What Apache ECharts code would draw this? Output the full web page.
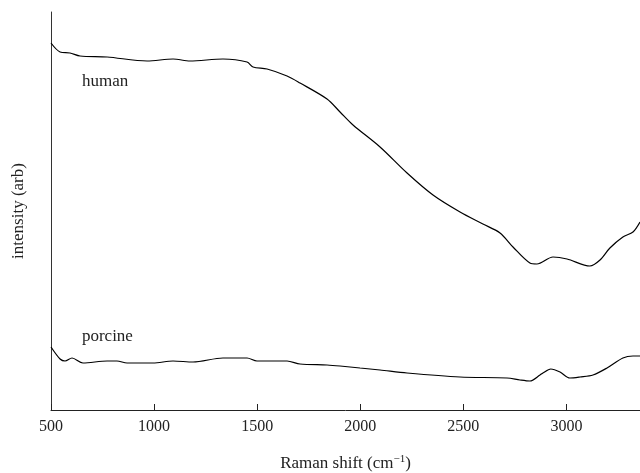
<!DOCTYPE html>
<html>
<head>
<meta charset="utf-8">
<script src="https://cdn.jsdelivr.net/npm/echarts@6/dist/echarts.min.js"></script>
<style>
  html, body { margin: 0; padding: 0; background: #fff; }
  #chart { width: 640px; height: 473px; }
</style>
</head>
<body>
<div id="chart"></div>
<script>
// Raman spectra, values (arbitrary intensity units)
const humanShift = [500, 544, 592, 641, 772, 966, 1092, 1174, 1334, 1451, 1480, 1548, 1645, 1708, 1839, 1902, 1965, 2096, 2227, 2353, 2484, 2595, 2678, 2741, 2823, 2857, 2935, 3003, 3114, 3163, 3211, 3274, 3323, 3357];
const humanIntensity = [367, 358, 357, 354, 353, 349, 351, 349, 351, 348, 343, 341, 334, 327, 311, 298, 285, 263, 237, 215, 198, 186, 177, 163, 147, 146, 153, 151, 144, 150, 162, 173, 178, 188];

const porcineShift = [500, 544, 568, 602, 655, 772, 820, 869, 995, 1092, 1189, 1334, 1451, 1499, 1645, 1708, 1839, 1902, 1999, 2096, 2227, 2484, 2712, 2775, 2823, 2872, 2886, 2924, 2969, 3017, 3066, 3129, 3197, 3274, 3323, 3357];
const porcineIntensity = [63, 51, 49, 52, 47, 49, 49, 47, 47, 49, 48, 52, 52, 49, 49, 46, 45, 44, 42, 40, 37, 33, 32, 30, 29, 35, 37, 41, 38, 32, 33, 35, 42, 52, 54, 54];

const xTicks = [500, 1000, 1500, 2000, 2500, 3000];

const pair = (xs, ys) => xs.map((x, i) => [x, ys[i]]);
const serif = 'Liberation Serif';

const chart = echarts.init(document.getElementById('chart'));

const labelPoint = (name, x, y) => ({
  data: [{ coord: [x, y], value: name }],
  symbol: 'circle',
  symbolSize: 0,
  label: {
    show: true,
    position: 'right',
    distance: 0,
    formatter: name,
    color: '#222',
    fontFamily: serif,
    fontSize: 17
  }
});

const option = {
  animation: false,
  backgroundColor: '#fff',
  grid: { left: 51, right: 0, top: 12, bottom: 63, outerBoundsMode: 'none', containLabel: false },
  xAxis: {
    type: 'value',
    min: 500,
    max: 3357,
    interval: 500,
    name: '{n|Raman shift (cm}{s|−1}{n|)}',
    nameLocation: 'middle',
    nameGap: 44,
    nameTextStyle: {
      rich: {
        n: { fontFamily: serif, fontSize: 17, color: '#222' },
        s: { fontFamily: serif, fontSize: 11, color: '#222', verticalAlign: 'top', padding: [0, 0, 8, 0] }
      }
    },
    axisLine: { lineStyle: { color: '#222', width: 1 } },
    axisTick: { show: false },
    axisLabel: {
      color: '#222', fontFamily: serif, fontSize: 16, margin: 9,
      showMaxLabel: false,
      formatter: v => String(v)
    },
    splitLine: { show: false }
  },
  yAxis: {
    type: 'value',
    min: 0,
    max: 398,
    name: 'intensity (arb)',
    nameLocation: 'middle',
    nameGap: 24,
    nameRotate: 90,
    nameTextStyle: { fontFamily: serif, fontSize: 17, color: '#222' },
    axisLine: { show: true, lineStyle: { color: '#333', width: 1 } },
    axisTick: { show: false },
    axisLabel: { show: false },
    splitLine: { show: false }
  },
  series: [
    {
      name: 'human',
      type: 'line',
      data: pair(humanShift, humanIntensity),
      showSymbol: false,
      smooth: 0.3,
      lineStyle: { color: '#000', width: 1.2 },
      markPoint: labelPoint('human', 650, 328)
    },
    {
      name: 'porcine',
      type: 'line',
      data: pair(porcineShift, porcineIntensity),
      showSymbol: false,
      smooth: 0.3,
      lineStyle: { color: '#000', width: 1.2 },
      markPoint: labelPoint('porcine', 650, 73)
    },
    {
      // inward tick marks on the x axis, placed through the axis scale
      name: 'ticks',
      type: 'custom',
      silent: true,
      clip: false,
      data: xTicks.map(v => [v, 0]),
      renderItem: (params, api) => {
        const p = api.coord([api.value(0), 0]);
        const x = Math.round(p[0]) + 0.5;
        return {
          type: 'line',
          shape: { x1: x, y1: p[1], x2: x, y2: p[1] - 6 },
          style: { stroke: '#222', lineWidth: 1 }
        };
      }
    }
  ]
};

chart.setOption(option);
</script>
</body>
</html>
